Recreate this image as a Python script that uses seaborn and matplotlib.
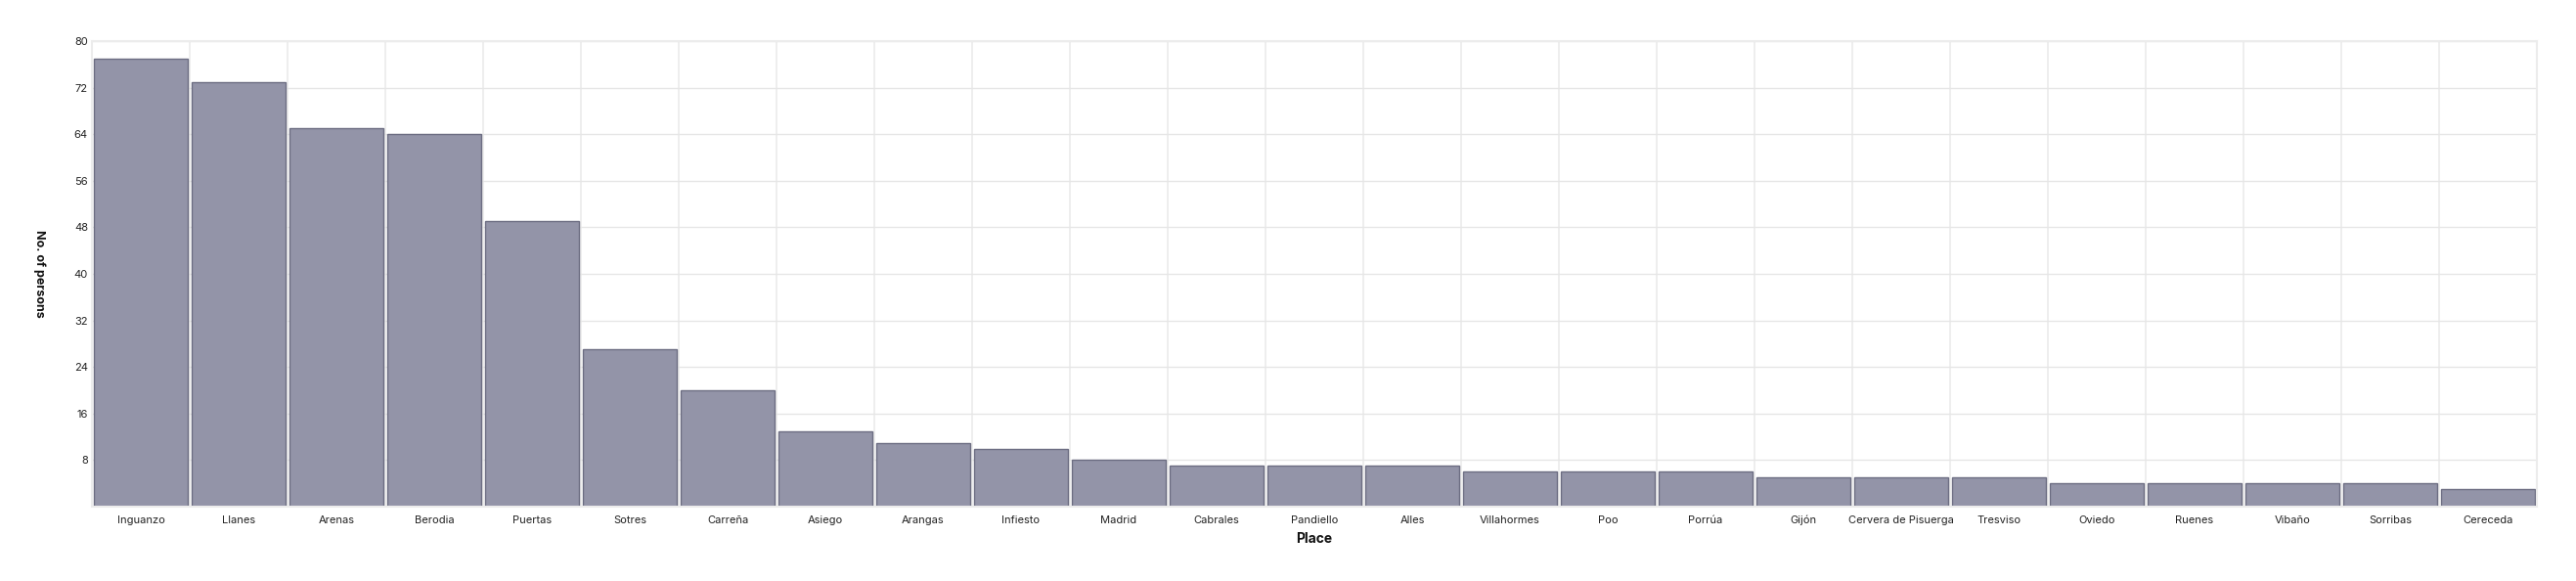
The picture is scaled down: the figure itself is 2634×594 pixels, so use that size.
import matplotlib
matplotlib.use("Agg")
import matplotlib.pyplot as plt
import seaborn as sns
import pandas as pd

places = ["Inguanzo", "Llanes", "Arenas", "Berodia", "Puertas", "Sotres", "Carreña",
          "Asiego", "Arangas", "Infiesto", "Madrid", "Cabrales", "Pandiello", "Alles",
          "Villahormes", "Poo", "Porrúa", "Gijón", "Cervera de Pisuerga", "Tresviso",
          "Oviedo", "Ruenes", "Vibaño", "Sorribas", "Cereceda"]
persons = [77, 73, 65, 64, 49, 27, 20, 13, 11, 10, 8, 7, 7, 7, 6, 6, 6, 5, 5, 5, 4, 4, 4, 4, 3]
y_ticks = [8, 16, 24, 32, 40, 48, 56, 64, 72, 80]

sns.set_theme(style="whitegrid")
plt.rcParams['font.family'] = ['Inter', 'DejaVu Sans']

df = pd.DataFrame({"Place": places, "Persons": persons})

W, H, DPI = 2634, 594, 100
fig = plt.figure(figsize=(W / DPI, H / DPI), dpi=DPI)
left, right, top, bottom = 94, 2594, 42, 518
ax = fig.add_axes([left / W, 1 - bottom / H, (right - left) / W, (bottom - top) / H])

sns.barplot(data=df, x="Place", y="Persons", ax=ax, color="#9394a8",
            saturation=1, width=0.96, edgecolor="#6c6d82", linewidth=1.0)

ax.set_ylim(0, 80)
ax.set_xlim(-0.5, len(places) - 0.5)
ax.set_yticks(y_ticks)
ax.set_yticklabels([str(t) for t in y_ticks])
ax.grid(True, axis="both", color="#e6e6e6", linewidth=1.0)
ax.set_axisbelow(True)
ax.set_xticks(range(len(places)))
ax.xaxis.grid(False)
for i in range(len(places) + 1):
    ax.axvline(i - 0.5, color="#ebebeb", linewidth=1.2, zorder=0)

for s in ax.spines.values():
    s.set_visible(True)
    s.set_color("#ececec")
    s.set_linewidth(1.5)

ax.tick_params(axis="both", length=0, labelsize=8, colors="#222222")
ax.tick_params(axis="x", pad=12)
ax.tick_params(axis="y", pad=3)
for lab in ax.get_xticklabels():
    lab.set_verticalalignment("baseline")

ax.set_xlabel("Place", fontsize=10, fontweight="bold", color="#111111", va="center")
ax.xaxis.set_label_coords(0.5, -0.069)
ax.set_ylabel("No. of persons", fontsize=9, fontweight="bold", color="#111111",
              rotation=270, ha="center", va="center")
ax.yaxis.set_label_coords(-0.0216, 0.5)

fig.savefig("out.png", dpi=DPI, facecolor="white")
